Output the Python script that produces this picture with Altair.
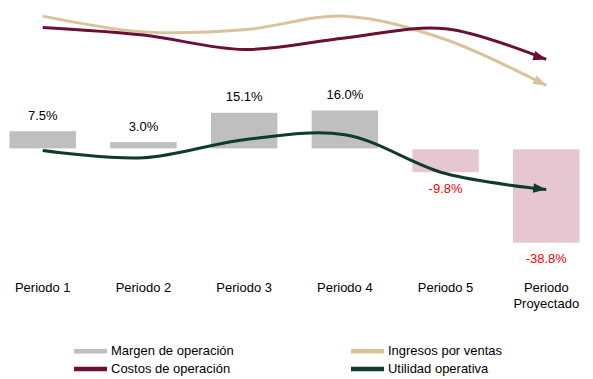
import altair as alt
import pandas as pd

# ---- data ----
periodos = ["Periodo 1", "Periodo 2", "Periodo 3", "Periodo 4", "Periodo 5", "Periodo Proyectado"]
margen = [7.5, 3.0, 15.1, 16.0, -9.8, -38.8]          # % margen de operación
ingresos = [96.9, 90.9, 91.7, 96.9, 88.0, 70.5]        # índice (eje secundario oculto)
costos = [92.6, 89.7, 84.2, 88.6, 92.1, 80.4]
utilidad = [45.7, 42.9, 49.8, 51.7, 36.9, 30.8]

# legend is filled column by column: col 1 = Margen, Costos ; col 2 = Ingresos, Utilidad
series_names = ["Margen de operación", "Costos de operación", "Ingresos por ventas", "Utilidad operativa"]
series_colors = ["#BFBFBF", "#6B0F36", "#D9C39C", "#0F3B2F"]

bars_df = pd.DataFrame({"periodo": periodos, "margen": margen})
bars_df["txt"] = bars_df["margen"].map(lambda v: f"{v:.1f}%")

lines_df = pd.concat([
    pd.DataFrame({"periodo": periodos, "valor": ingresos, "serie": "Ingresos por ventas", "orden": range(6)}),
    pd.DataFrame({"periodo": periodos, "valor": costos, "serie": "Costos de operación", "orden": range(6)}),
    pd.DataFrame({"periodo": periodos, "valor": utilidad, "serie": "Utilidad operativa", "orden": range(6)}),
])

FONT = "Liberation Sans"
PINK = "#E6C6D1"
GRAY = "#BFBFBF"

x_enc = alt.X(
    "periodo:N", sort=periodos,
    scale=alt.Scale(paddingInner=0.33, paddingOuter=0),
    axis=alt.Axis(
        title=None, domain=False, ticks=False, tickSize=0, labelPadding=11,
        labelFont=FONT, labelFontSize=13, labelColor="#000000", labelAngle=0,
        labelLineHeight=16, labelBaseline="top",
        labelExpr="datum.label == 'Periodo Proyectado' ? ['Periodo', 'Proyectado'] : datum.label",
    ),
)
y_bar = alt.Y("margen:Q", scale=alt.Scale(domain=[-50, 58], nice=False, zero=False), axis=None)

bars = alt.Chart(bars_df).mark_bar(stroke="#FFFFFF", strokeWidth=1).encode(
    x=x_enc, y=y_bar,
    color=alt.condition("datum.margen < 0", alt.value(PINK), alt.value(GRAY)),
)
lab_pos = alt.Chart(bars_df).transform_filter("datum.margen >= 0").mark_text(
    font=FONT, fontSize=13, dy=-15, baseline="middle", color="#000000"
).encode(x=alt.X("periodo:N", sort=periodos), y=y_bar, text="txt:N")
lab_neg = alt.Chart(bars_df).transform_filter("datum.margen < 0").mark_text(
    font=FONT, fontSize=13, dy=16, baseline="middle", color="#FF0000"
).encode(x=alt.X("periodo:N", sort=periodos), y=y_bar, text="txt:N")

bar_layer = alt.layer(bars, lab_pos, lab_neg)

# wide, flat legend symbol (10 units long) so the legend rows stay compact
LEGEND_LINE = "M-5,0L5,0"
color_enc = alt.Color(
    "serie:N",
    scale=alt.Scale(domain=series_names, range=series_colors),
    legend=alt.Legend(
        title=None, orient="none", legendX=75, legendY=336.5, columns=2,
        symbolType=LEGEND_LINE, symbolStrokeWidth=4.5, symbolSize=43.6,
        labelFont=FONT, labelFontSize=13, labelColor="#000000", labelOffset=14,
        columnPadding=107, rowPadding=-1, padding=0,
    ),
)
y_line = alt.Y("valor:Q", scale=alt.Scale(domain=[0, 100], nice=False, zero=False), axis=None)

lines = alt.Chart(lines_df).mark_line(interpolate="catmull-rom", strokeWidth=3).encode(
    x=alt.X("periodo:N", sort=periodos), y=y_line, color=color_enc, order="orden:Q",
    detail="serie:N",
)

ARROW = "M0,0L-2,-0.75L-2,0.75Z"
arrow_angles = {"Ingresos por ventas": 26, "Costos de operación": 17, "Utilidad operativa": 7}
arrows = []
for name, ang in arrow_angles.items():
    arrows.append(
        alt.Chart(lines_df).transform_filter(
            f"datum.serie == '{name}' && datum.orden == 5"
        ).mark_point(shape=ARROW, filled=True, size=169, angle=ang, opacity=1).encode(
            x=alt.X("periodo:N", sort=periodos), y=y_line,
            color=alt.Color("serie:N", scale=alt.Scale(domain=series_names, range=series_colors), legend=None),
        )
    )

line_layer = alt.layer(lines, *arrows)

chart = alt.layer(bar_layer, line_layer).resolve_scale(y="independent").properties(
    width=571, height=262.4, padding=0,
).configure_view(stroke=None)

chart.save("out.html", embed_options={"renderer": "svg", "actions": False})
